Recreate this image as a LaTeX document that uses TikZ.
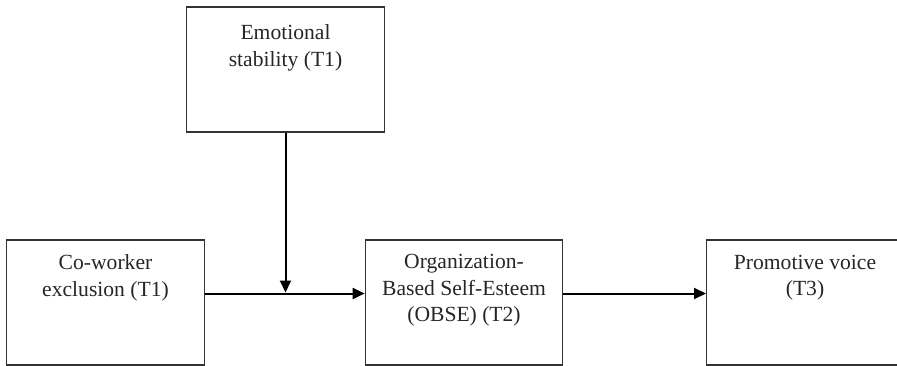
\documentclass[tikz,border=0pt]{standalone}
\usepackage{fontspec}
\setmainfont{Liberation Serif}
\usetikzlibrary{arrows.meta,positioning}
\tikzset{
  box/.style={draw=black!80, line width=1.2pt, minimum width=197.5pt, minimum height=125pt, inner sep=0pt},
  txt/.style={anchor=north, align=center, inner sep=0pt, text=black!85, font=\fontsize{21.6}{26.5}\selectfont},
  link/.style={line width=2pt, -{Triangle[length=12pt,width=11pt]}}
}
\begin{document}
\begin{tikzpicture}[x=1pt, y=1pt]
  \useasboundingbox (0,0) rectangle (897,365);
  \clip (0,0) rectangle (897,365);
  % boxes
  \node[box] (emo) at (285.5,295.5) {};
  \node[box] (cwe) at (105.5,62.5) {};
  \node[box] (obse) at (464,62.5) {};
  \node[box, minimum width=230pt, anchor=west] (voice) at (706,62.5) {};
  % texts
  \node[txt] (emotxt) at ([yshift=-18pt]emo.north) {Emotional\\stability (T1)};
  \node[txt] (cwetxt) at ([yshift=-15pt]cwe.north) {Co-worker\\exclusion (T1)};
  \node[txt] (obsetxt) at ([yshift=-15pt]obse.north) {Organization-\\Based Self-Esteem\\(OBSE) (T2)};
  \node[txt] (voicetxt) at ([xshift=99pt, yshift=-15.5pt]voice.north west) {Promotive voice\\(T3)};
  % arrows
  \coordinate (cweout) at ([yshift=9pt]cwe.east);
  \coordinate (mod) at (emo.south |- cweout);
  \draw[link] (cweout) -- ([yshift=9pt]obse.west);
  \draw[link, shorten >=1pt] (emo.south) -- (mod);
  \draw[link] ([yshift=9pt]obse.east) -- ([yshift=9pt]voice.west);
\end{tikzpicture}
\end{document}
